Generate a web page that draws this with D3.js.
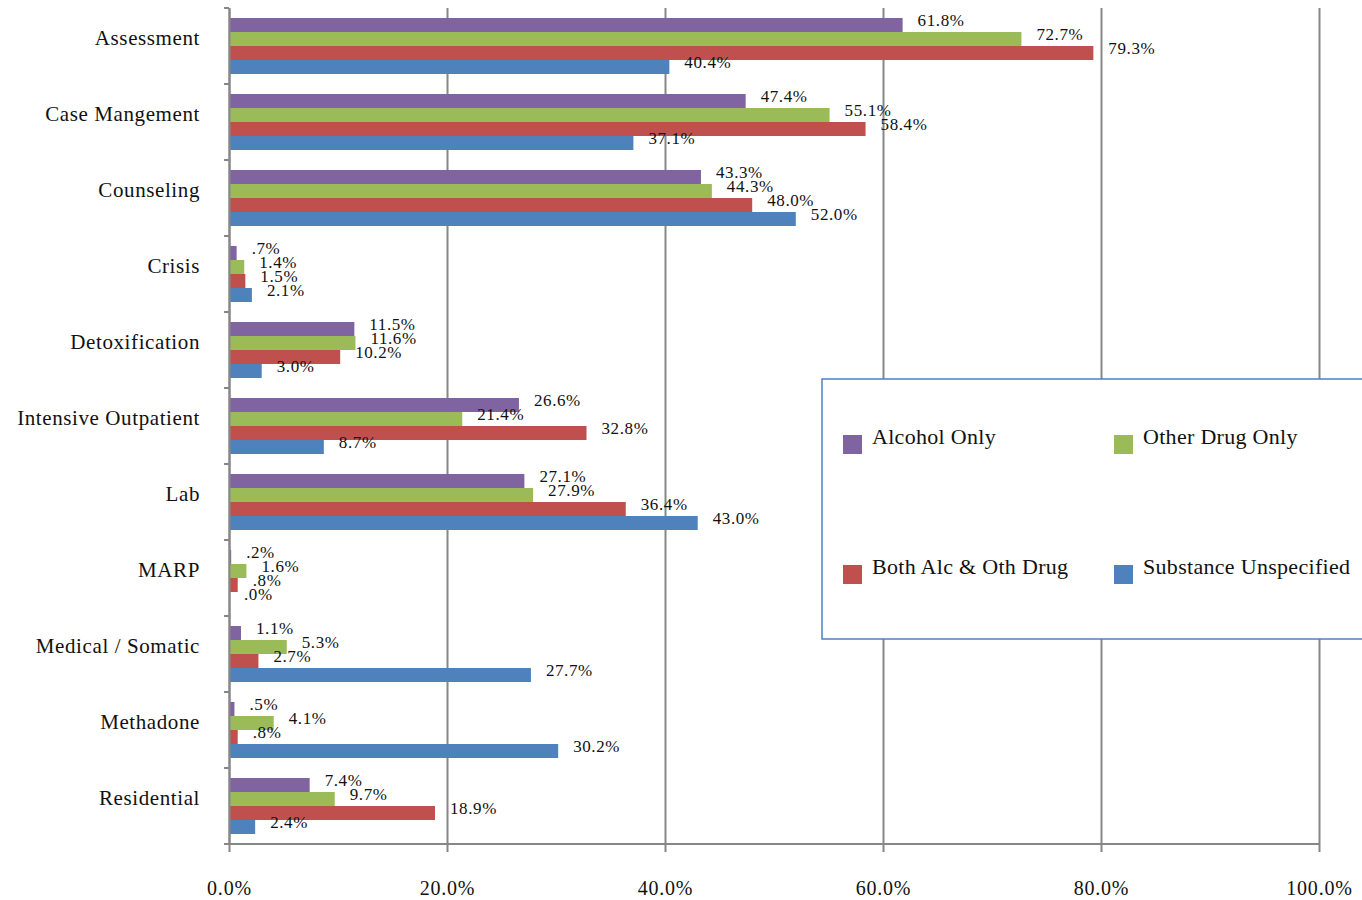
<!DOCTYPE html>
<html>
<head>
<meta charset="utf-8">
<script src="https://cdn.jsdelivr.net/npm/d3@7"></script>
<style>
  html, body { margin: 0; padding: 0; background: #fff; }
  svg { display: block; font-family: "Liberation Serif", "Times New Roman", serif; }
</style>
</head>
<body>
<svg id="chart" width="1362" height="900"></svg>
<script>
// Services received, by substance group (percent of clients)
const categories = ["Assessment", "Case Mangement", "Counseling", "Crisis", "Detoxification",
  "Intensive Outpatient", "Lab", "MARP", "Medical / Somatic", "Methadone", "Residential"];
const seriesNames = ["Alcohol Only", "Other Drug Only", "Both Alc & Oth Drug", "Substance Unspecified"];
const seriesColors = ["#8064A2", "#9BBB59", "#C0504D", "#4F81BD"];

const alcoholOnly    = [61.8, 47.4, 43.3, 0.7, 11.5, 26.6, 27.1, 0.2, 1.1, 0.5, 7.4];
const otherDrugOnly  = [72.7, 55.1, 44.3, 1.4, 11.6, 21.4, 27.9, 1.6, 5.3, 4.1, 9.7];
const bothAlcOthDrug = [79.3, 58.4, 48.0, 1.5, 10.2, 32.8, 36.4, 0.8, 2.7, 0.8, 18.9];
const substanceUnsp  = [40.4, 37.1, 52.0, 2.1, 3.0, 8.7, 43.0, 0.0, 27.7, 30.2, 2.4];

const xTicks = [0, 20, 40, 60, 80, 100];

const seriesValues = [alcoholOnly, otherDrugOnly, bothAlcOthDrug, substanceUnsp];
const rows = categories.map((c, i) => ({
  category: c,
  values: seriesNames.map((s, k) => ({ series: s, color: seriesColors[k], value: seriesValues[k][i] }))
}));

const svg = d3.select("#chart");
const plotLeft = 229, plotRight = 1319, plotTop = 8, plotBottom = 844;

const x = d3.scaleLinear().domain([0, 100]).range([plotLeft, plotRight]);
const y = d3.scaleBand().domain(categories).range([plotTop, plotBottom]).paddingInner(0).paddingOuter(0);
const y1 = d3.scaleBand().domain(seriesNames).range([0, y.bandwidth()]).paddingInner(0).paddingOuter(0.714);

const gridColor = "#878787";

// vertical gridlines with ticks hanging below the axis
const xAxis = d3.axisBottom(x).tickValues(xTicks).tickFormat(d => d3.format(".1f")(d) + "%");
const gx = svg.append("g").attr("transform", `translate(0,${plotBottom})`).call(xAxis);
gx.select(".domain").remove();
gx.selectAll(".tick line").attr("stroke", gridColor).attr("stroke-width", 2)
  .attr("y1", 8).attr("y2", -(plotBottom - plotTop));
gx.selectAll(".tick text").attr("y", 51).attr("dy", 0).attr("font-size", 20).attr("fill", "#111")
  .attr("letter-spacing", "0.8px")
  .attr("font-family", "Liberation Serif, serif");

// horizontal axis line
svg.append("line").attr("x1", plotLeft - 4).attr("x2", plotRight).attr("y1", plotBottom).attr("y2", plotBottom)
  .attr("stroke", gridColor).attr("stroke-width", 2);

// bars
const groups = svg.append("g").selectAll("g").data(rows).join("g")
  .attr("transform", d => `translate(0,${y(d.category)})`);

groups.selectAll("rect").data(d => d.values).join("rect")
  .attr("x", x(0))
  .attr("y", d => y1(d.series))
  .attr("width", d => x(d.value) - x(0))
  .attr("height", y1.bandwidth())
  .attr("fill", d => d.color);

// value labels
const fmt = v => d3.format(".1f")(v).replace(/^0\./, ".") + "%";
groups.selectAll("text").data(d => d.values).join("text")
  .attr("x", d => x(d.value) + 15)
  .attr("y", d => y1(d.series) + y1.bandwidth() / 2 + 1)
  .attr("font-size", 17)
  .attr("letter-spacing", "0.6px")
  .attr("fill", "#111")
  .text(d => fmt(d.value));

// vertical category axis
const yAxis = d3.axisLeft(y).tickSize(0).tickPadding(29);
const gy = svg.append("g").attr("transform", `translate(${plotLeft},0)`).call(yAxis);
gy.select(".domain").attr("stroke", gridColor).attr("stroke-width", 2);
gy.selectAll(".tick text").attr("font-size", 21).attr("fill", "#111")
  .attr("letter-spacing", "0.6px")
  .attr("font-family", "Liberation Serif, serif").attr("dy", "-0.05em");

// boundary ticks between categories
const bounds = categories.map(c => y(c)).concat([plotBottom]);
svg.append("g").selectAll("line").data(bounds).join("line")
  .attr("x1", plotLeft - 5).attr("x2", plotLeft).attr("y1", d => d).attr("y2", d => d)
  .attr("stroke", gridColor).attr("stroke-width", 2);

// legend
const legend = svg.append("g").attr("transform", "translate(822,379)");
legend.append("rect").attr("x", 0).attr("y", 0).attr("width", 560).attr("height", 260)
  .attr("fill", "#fff").attr("stroke", "#4F81BD").attr("stroke-width", 1.5);
const legendPos = [[21, 56], [292, 56], [21, 186], [292, 186]];
const li = legend.selectAll("g.item").data(seriesNames).join("g").attr("class", "item")
  .attr("transform", (d, i) => `translate(${legendPos[i][0]},${legendPos[i][1]})`);
li.append("rect").attr("width", 19).attr("height", 19).attr("fill", (d, i) => seriesColors[i]);
li.append("text").attr("x", 29).attr("y", 9).attr("font-size", 22).attr("letter-spacing", "0.3px")
  .attr("fill", "#111").text(d => d);
</script>
</body>
</html>
